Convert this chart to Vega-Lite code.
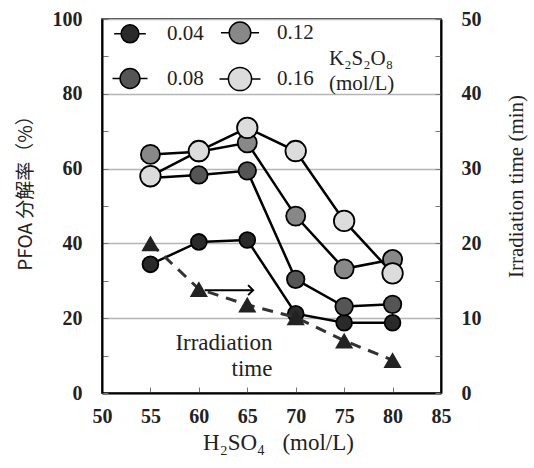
{
  "$schema": "https://vega.github.io/schema/vega-lite/v6.json",
  "width": 339,
  "height": 374,
  "padding": {"left": 16, "top": 9, "right": 5, "bottom": 5},
  "background": "white",
  "config": {
    "view": {"stroke": "black", "strokeWidth": 1.5},
    "axis": {
      "domainColor": "black", "domainWidth": 2,
      "tickColor": "#777", "tickSize": -6, "tickWidth": 1,
      "labelFont": "Liberation Serif", "labelFontSize": 20, "labelFontWeight": "bold", "labelColor": "#222",
      "labelFlush": false,
      "titleFontWeight": "normal", "titleColor": "#222"
    }
  },
  "datasets": {
    "pfoa": [
      {"k": "0.04", "h": 55, "p": 34.4}, {"k": "0.04", "h": 60, "p": 40.4}, {"k": "0.04", "h": 65, "p": 40.9},
      {"k": "0.04", "h": 70, "p": 21.2}, {"k": "0.04", "h": 75, "p": 18.8}, {"k": "0.04", "h": 80, "p": 18.8},
      {"k": "0.08", "h": 55, "p": 57.5}, {"k": "0.08", "h": 60, "p": 58.3}, {"k": "0.08", "h": 65, "p": 59.4},
      {"k": "0.08", "h": 70, "p": 30.4}, {"k": "0.08", "h": 75, "p": 23.1}, {"k": "0.08", "h": 80, "p": 23.7},
      {"k": "0.12", "h": 55, "p": 63.8}, {"k": "0.12", "h": 60, "p": 64.5}, {"k": "0.12", "h": 65, "p": 66.9},
      {"k": "0.12", "h": 70, "p": 47.3}, {"k": "0.12", "h": 75, "p": 33.2}, {"k": "0.12", "h": 80, "p": 35.7},
      {"k": "0.16", "h": 55, "p": 58.0}, {"k": "0.16", "h": 60, "p": 64.7}, {"k": "0.16", "h": 65, "p": 70.9},
      {"k": "0.16", "h": 70, "p": 64.7}, {"k": "0.16", "h": 75, "p": 46.0}, {"k": "0.16", "h": 80, "p": 32.0}
    ],
    "time": [
      {"h": 55, "t": 20.0}, {"h": 60, "t": 13.9}, {"h": 65, "t": 11.8},
      {"h": 70, "t": 10.1}, {"h": 75, "t": 7.0}, {"h": 80, "t": 4.4}
    ],
    "note": [{"h": 67.6, "p": 13.4, "label": "Irradiation\ntime"}],
    "arrow": [{"h": 60.6, "h2": 65.6, "p": 27.5}]
  },
  "encoding": {
    "x": {
      "field": "h", "type": "quantitative",
      "scale": {"domain": [50, 85], "nice": false, "zero": false, "padding": 0},
      "axis": {
        "values": [50, 55, 60, 65, 70, 75, 80, 85], "grid": false,
        "labelPadding": 19,
        "title": "H₂SO₄\u00a0\u00a0\u00a0(mol/L)", "titleFont": "Liberation Serif", "titleFontSize": 23, "titlePadding": 5, "titleX": 176
      }
    }
  },
  "layer": [
    {
      "encoding": {
        "y": {
          "field": "p", "type": "quantitative",
          "scale": {"domain": [0, 100], "nice": false, "padding": 0},
          "axis": {
            "values": [0, 10, 20, 30, 40, 50, 60, 70, 80, 90, 100],
            "labelExpr": "datum.value % 20 === 0 ? datum.label : ''",
            "grid": true, "gridColor": "#b5b5b5", "gridWidth": 1.5,
            "gridOpacity": {"condition": {"test": "datum.value % 20 === 0", "value": 1}, "value": 0},
            "labelPadding": 26,
            "title": "PFOA 分解率（%）", "titleFont": "Noto Sans CJK JP", "titleFontSize": 19, "titlePadding": 17, "titleY": 169
          }
        }
      },
      "layer": [
        {
          "data": {"name": "pfoa"},
          "mark": {"type": "line", "color": "black", "strokeWidth": 2.5},
          "encoding": {"detail": {"field": "k", "type": "nominal"}}
        },
        {
          "data": {"name": "pfoa"},
          "mark": {"type": "point", "shape": "circle", "filled": true, "stroke": "black", "strokeWidth": 1.8, "opacity": 1},
          "encoding": {
            "fill": {
              "field": "k", "type": "ordinal",
              "scale": {"domain": ["0.04", "0.08", "0.12", "0.16"], "range": ["#2a2a2a", "#555555", "#888888", "#dcdcdc"]},
              "legend": {
                "title": ["K₂S₂O₈", "(mol/L)"],
                "orient": "none", "legendX": 17, "legendY": 3,
                "columns": 2, "columnPadding": 12, "rowPadding": 17,
                "titleOrient": "right", "titleAnchor": "end", "titlePadding": 15, "titleLineHeight": 25,
                "titleFont": "Liberation Serif", "titleFontSize": 21, "titleFontWeight": "normal", "titleColor": "#222",
                "labelFont": "Liberation Serif", "labelFontSize": 21, "labelColor": "#222", "labelOffset": 26,
                "symbolType": "M-2,0H-1.13M1.13,0H2M-1.13,0A1.13,1.13,0,1,1,1.13,0A1.13,1.13,0,1,1,-1.13,0Z",
                "symbolStrokeColor": "black", "symbolStrokeWidth": 1.5, "symbolOpacity": 1
              }
            },
            "size": {
              "field": "k", "type": "ordinal",
              "scale": {"domain": ["0.04", "0.08", "0.12", "0.16"], "range": [250, 420, 620, 800]}
            }
          }
        },
        {
          "data": {"name": "note"},
          "mark": {"type": "text", "align": "right", "baseline": "middle", "lineBreak": "\n", "lineHeight": 26, "font": "Liberation Serif", "fontSize": 23, "color": "#222"},
          "encoding": {"text": {"field": "label"}}
        },
        {
          "data": {"name": "arrow"},
          "mark": {"type": "rule", "color": "black", "strokeWidth": 2},
          "encoding": {"x2": {"field": "h2"}}
        },
        {
          "data": {"name": "arrow"},
          "mark": {"type": "point", "shape": "M-1,-1L0,0L-1,1", "filled": false, "stroke": "black", "strokeWidth": 2, "size": 100, "opacity": 1},
          "encoding": {"x": {"field": "h2", "type": "quantitative"}}
        }
      ]
    },
    {
      "data": {"name": "time"},
      "encoding": {
        "y": {
          "field": "t", "type": "quantitative",
          "scale": {"domain": [0, 50], "nice": false, "padding": 0},
          "axis": {
            "orient": "right",
            "values": [0, 5, 10, 15, 20, 25, 30, 35, 40, 45, 50],
            "labelExpr": "datum.value % 10 === 0 ? datum.label : ''",
            "grid": false, "labelPadding": 26,
            "title": "Irradiation time (min)", "titleFont": "Liberation Serif", "titleFontSize": 21,
            "titleAngle": 270, "titleBaseline": "top", "titlePadding": 24, "titleY": 167
          }
        }
      },
      "layer": [
        {"mark": {"type": "line", "color": "#333", "strokeWidth": 3, "strokeDash": [11, 8]}},
        {"mark": {"type": "point", "shape": "triangle-up", "filled": true, "color": "#222", "size": 330, "opacity": 1}}
      ]
    }
  ],
  "resolve": {"scale": {"y": "independent"}}
}
